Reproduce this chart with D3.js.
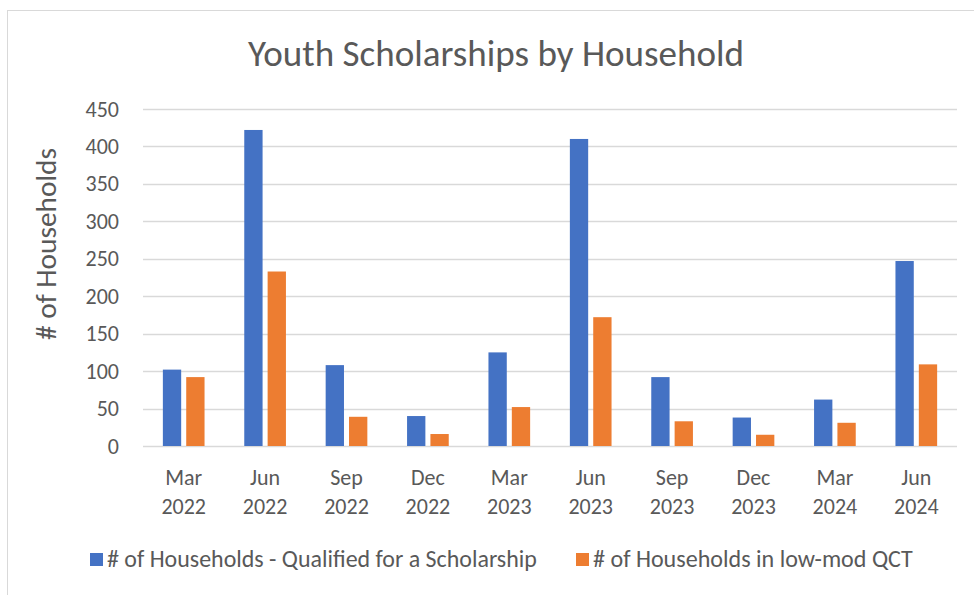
<!DOCTYPE html>
<html>
<head>
<meta charset="utf-8">
<script src="https://cdn.jsdelivr.net/npm/d3@7"></script>
<style>
  html, body { margin: 0; padding: 0; background: #fff; }
  svg { display: block; }
  text { font-family: Carlito, Calibri, Lato, "Open Sans", sans-serif; fill: #595959; }
</style>
</head>
<body>
<svg id="chart" width="974" height="595"></svg>
<script>
const categoriesMonth = ["Mar", "Jun", "Sep", "Dec", "Mar", "Jun", "Sep", "Dec", "Mar", "Jun"];
const categoriesYear  = ["2022", "2022", "2022", "2022", "2023", "2023", "2023", "2023", "2024", "2024"];
const qualified = [102, 422, 108, 40, 125, 410, 92, 38, 62, 247];
const lowModQCT = [92, 233, 39, 16, 52, 172, 33, 15, 31, 109];
const seriesNames = ["# of Households - Qualified for a Scholarship", "# of Households in low-mod QCT"];
const yTicks = [0, 50, 100, 150, 200, 250, 300, 350, 400, 450];
const titleText = "Youth Scholarships by Household";
const yTitleText = "# of Households";

const colors = ["#4472C4", "#ED7D31"];
const svg = d3.select("#chart");

// chart border
svg.append("rect").attr("x", 7.5).attr("y", 10.5).attr("width", 980).attr("height", 620)
  .attr("fill", "none").attr("stroke", "#D9D9D9").attr("stroke-width", 1);

const plot = { left: 143, right: 957, top: 109, bottom: 446 };
const idx = categoriesMonth.map((d, i) => i);
const x = d3.scaleBand().domain(idx).range([plot.left, plot.right]).paddingInner(0).paddingOuter(0);
const y = d3.scaleLinear().domain([0, 450]).range([plot.bottom, plot.top]);

function fit(sel, target) {
  const w = sel.node().getComputedTextLength();
  const fs = parseFloat(sel.attr("font-size"));
  sel.attr("font-size", (fs * target / w).toFixed(2));
}

// gridlines
svg.append("g").selectAll("line").data(yTicks).join("line")
  .attr("x1", plot.left).attr("x2", plot.right)
  .attr("y1", d => Math.round(y(d)) + 0.5).attr("y2", d => Math.round(y(d)) + 0.5)
  .attr("stroke", "#D9D9D9").attr("stroke-width", 1.3);

// y tick labels
svg.append("g").selectAll("text").data(yTicks).join("text")
  .attr("x", 119).attr("y", d => y(d) + 7.5)
  .attr("text-anchor", "end").attr("font-size", 22)
  .text(d => d);

// bars
const bw = x.bandwidth() * 0.225;
const gap = x.bandwidth() * 0.062;
const series = [qualified, lowModQCT];
series.forEach((vals, s) => {
  svg.append("g").selectAll("rect").data(vals).join("rect")
    .attr("x", (d, i) => x(i) + x.bandwidth() / 2 + (s === 0 ? -(gap / 2 + bw) : gap / 2))
    .attr("y", d => y(d))
    .attr("width", bw)
    .attr("height", d => y(0) - y(d))
    .attr("fill", colors[s]);
});

// x labels
const xl = svg.append("g");
idx.forEach(i => {
  const cx = x(i) + x.bandwidth() / 2;
  xl.append("text").attr("x", cx).attr("y", 485).attr("text-anchor", "middle").attr("font-size", 22).text(categoriesMonth[i]);
  xl.append("text").attr("x", cx).attr("y", 514).attr("text-anchor", "middle").attr("font-size", 22).text(categoriesYear[i]);
});

// title
const t = svg.append("text").attr("x", 496).attr("y", 66).attr("text-anchor", "middle")
  .attr("font-size", 32).attr("font-weight", 300).text(titleText);
fit(t, 496);

// y title
const yt = svg.append("text").attr("transform", "translate(56,244) rotate(-90)")
  .attr("text-anchor", "middle").attr("font-size", 26).text(yTitleText);
fit(yt, 192);

// legend
const leg = svg.append("g");
const legX = [90, 576];
const legTextW = [430, 320];
seriesNames.forEach((n, s) => {
  leg.append("rect").attr("x", legX[s]).attr("y", 553).attr("width", 13).attr("height", 13).attr("fill", colors[s]);
  const lt = leg.append("text").attr("x", legX[s] + 17).attr("y", 567).attr("font-size", 22).text(n);
  fit(lt, legTextW[s]);
});
</script>
</body>
</html>
